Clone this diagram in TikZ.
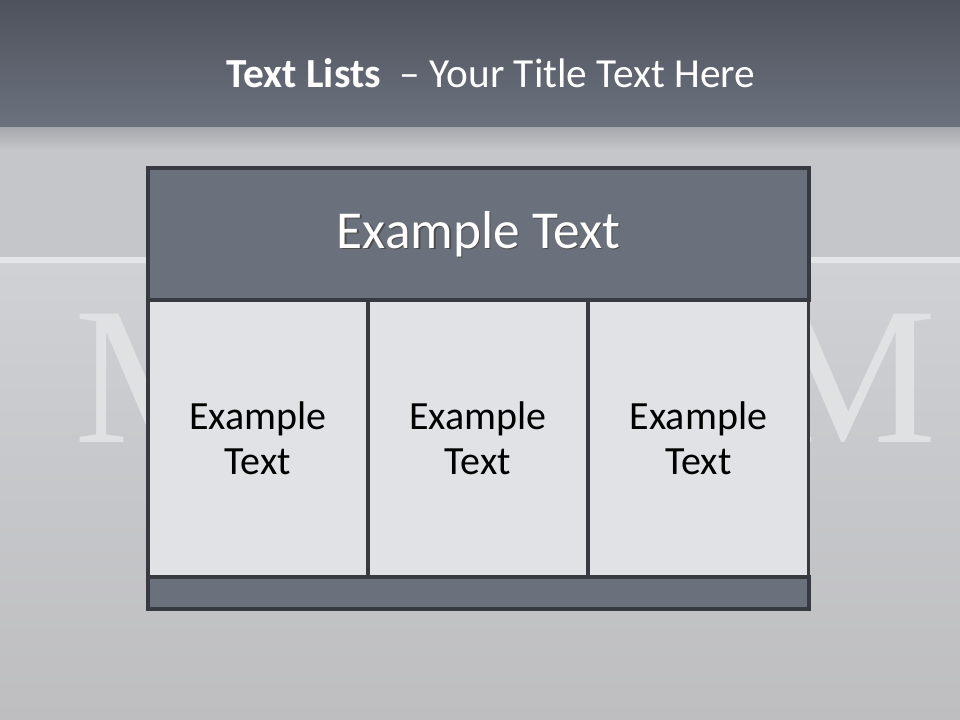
\documentclass[tikz,border=0pt]{standalone}
\usepackage{fontspec}
\setmainfont{Carlito}
\newfontfamily\serifm{Liberation Serif}
\usetikzlibrary{positioning}
\definecolor{topdark}{HTML}{4E525D}
\definecolor{topmid}{HTML}{6C727E}
\definecolor{stone}{HTML}{C5C6C9}
\definecolor{stonelow}{HTML}{BEBEC0}
\definecolor{band}{HTML}{E4E5E7}
\definecolor{wall}{HTML}{D0D1D4}
\definecolor{mfaint}{HTML}{E0E1E3}
\definecolor{slate}{HTML}{6A707C}
\definecolor{cellbg}{HTML}{E1E2E5}
\definecolor{edge}{HTML}{383A42}

\begin{document}
\begin{tikzpicture}[x=0.75pt, y=-0.75pt,
  bar/.style={draw=edge, line width=2.4pt, fill=slate, minimum width=661*0.75pt, inner sep=0pt},
  cell/.style={draw=edge, line width=2.4pt, fill=cellbg, minimum width=220*0.75pt,
               minimum height=277*0.75pt, inner sep=0pt, align=center,
               font=\fontsize{30}{34}\selectfont},
  bigm/.style={font=\serifm\fontsize{147}{147}\selectfont, text=mfaint, inner sep=0pt, anchor=base}
]
  % background
  \useasboundingbox (0,0) rectangle (960,720);
  \fill[top color=topdark, bottom color=topmid] (0,0) rectangle (960,128);
  \fill[top color=topmid!35!stone, bottom color=stone] (0,128) rectangle (960,150);
  \fill[stone] (0,150) rectangle (960,257);
  \fill[band] (0,257) rectangle (960,264);
  \fill[top color=wall, bottom color=wall!95!black] (0,264) rectangle (960,500);
  \fill[top color=wall!95!black, bottom color=stonelow] (0,500) rectangle (960,720);
  \node[bigm] (mleft)  at (162,442) {M};
  \node[bigm] (mright) at (850,442) {M};

  % title
  \node[text=white, anchor=base, font=\fontsize{31}{37}\selectfont] (title) at (491,88)
    {\textbf{Text Lists}\ \ -- Your Title Text Here};

  % table
  \node[bar, minimum height=132*0.75pt] (head) at (478.5,234) {};
  \node[text=black!70, font=\fontsize{40}{48}\selectfont] at (480,235.5) {Example Text};
  \node[text=white, font=\fontsize{40}{48}\selectfont] (headtxt) at (478.5,234) {Example Text};
  \node[cell] (c1) at (258,438.5) {Example\\Text};
  \node[cell] (c2) at (478,438.5) {Example\\Text};
  \node[cell] (c3) at (698.5,438.5) {Example\\Text};
  \node[bar, minimum height=32*0.75pt] (foot) at (478.5,593) {};
\end{tikzpicture}
\end{document}
